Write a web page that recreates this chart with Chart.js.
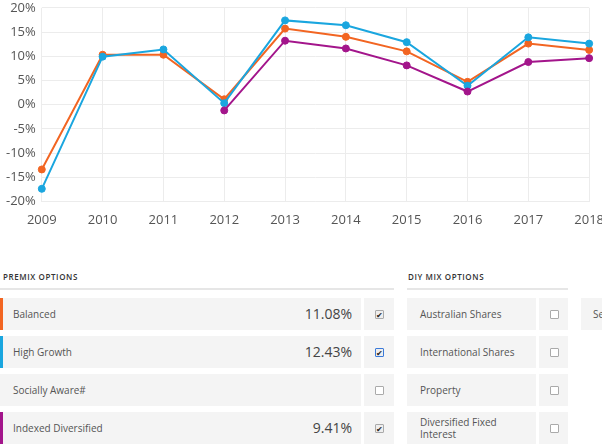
<!DOCTYPE html>
<html>
<head>
<meta charset="utf-8">
<script src="https://cdn.jsdelivr.net/npm/chart.js@4"></script>
<style>
  html, body { margin: 0; padding: 0; background: #fff; overflow: hidden; }
  body { width: 602px; height: 446px; position: relative; font-family: "Open Sans", sans-serif; color: #555; }
  #chartBox { position: absolute; left: 0; top: -6px; width: 615px; height: 245px; }
  .hdr { position: absolute; top: 271px; font-size: 8px; font-weight: 600; letter-spacing: 0.6px; color: #333; }
  .rule { position: absolute; top: 288px; height: 2px; background: #e6e6e6; }
  .cell { position: absolute; height: 32px; background: #f4f4f4; font-size: 10px; color: #555; box-sizing: border-box; }
  .name { padding-left: 13px; line-height: 32px; }
  .val { position: absolute; right: 9px; top: 0; font-size: 14px; color: #444; line-height: 32px; }
  .bar { position: absolute; left: 0; top: 0; width: 3px; height: 32px; }
  .box { position: absolute; left: 50%; top: 50%; width: 7px; height: 7px; margin: -4px 0 0 -4px; border: 1px solid #aaa; background: #fff; border-radius: 1px; font-size: 8px; line-height: 7px; text-align: center; color: #222; }
  .box.on { background: #eee; }
  .box.blue { border-color: #3b7ad9; }
</style>
</head>
<body>
<div id="chartBox"><canvas id="grafica"></canvas></div>

<div class="hdr" style="left:3px">PREMIX OPTIONS</div>
<div class="rule" style="left:0;width:394px"></div>
<div class="hdr" style="left:408px">DIY MIX OPTIONS</div>
<div class="rule" style="left:407px;width:161px"></div>

<div id="premix"></div>
<div id="diy"></div>

<script>
const years = ['2009', '2010', '2011', '2012', '2013', '2014', '2015', '2016', '2017', '2018'];
const balanced = [-13.4, 10.3, 10.3, 1.1, 15.7, 14.0, 11.0, 4.7, 12.6, 11.3];
const highGrowth = [-17.4, 9.9, 11.4, 0.3, 17.4, 16.4, 12.9, 3.9, 13.9, 12.6];
const indexedDiversified = [null, null, null, -1.2, 13.2, 11.6, 8.1, 2.7, 8.8, 9.6];

const premixNames = ['Balanced', 'High Growth', 'Socially Aware#', 'Indexed Diversified'];
const premixValues = ['11.08%', '12.43%', '', '9.41%'];
const premixColors = ['#f26522', '#1aa6df', '', '#a3158b'];
const premixChecked = [true, true, false, true];
const diyNames = ['Australian Shares', 'International Shares', 'Property', 'Diversified Fixed<br>Interest'];

// rows under the chart
const rowTops = [298, 336, 374, 412];
let html = '';
premixNames.forEach(function(name, i) {
    html += '<div class="cell name" style="left:0;width:361px;top:' + rowTops[i] + 'px">' + name;
    if (premixColors[i]) html += '<div class="bar" style="background:' + premixColors[i] + '"></div>';
    if (premixValues[i]) html += '<div class="val">' + premixValues[i] + '</div>';
    html += '</div>';
    let cls = 'box' + (premixChecked[i] ? ' on' : '') + (i == 1 ? ' blue' : '');
    html += '<div class="cell" style="left:364px;width:30px;top:' + rowTops[i] + 'px"><div class="' + cls + '">' + (premixChecked[i] ? '&#10004;' : '') + '</div></div>';
});
document.getElementById('premix').innerHTML = html;

html = '';
diyNames.forEach(function(name, i) {
    let two = name.indexOf('<br>') > -1;
    html += '<div class="cell name" style="left:407px;width:129px;top:' + rowTops[i] + 'px;' + (two ? 'line-height:12px;padding-top:4px' : '') + '">' + name + '</div>';
    html += '<div class="cell" style="left:539px;width:29px;top:' + rowTops[i] + 'px"><div class="box"></div></div>';
});
html += '<div class="cell name" style="left:581px;width:40px;top:298px;padding-left:12px">Se</div>';
document.getElementById('diy').innerHTML = html;

const ctx = document.getElementById('grafica').getContext('2d');
const myChart = new Chart(ctx, {
    type: 'line',
    data: {
        labels: years,
        datasets: [{
                label: 'Balanced',
                data: balanced,
                borderColor: '#f26522',
                backgroundColor: '#f26522',
                order: 2
            },
            {
                label: 'High Growth',
                data: highGrowth,
                borderColor: '#1aa6df',
                backgroundColor: '#1aa6df',
                order: 1
            },
            {
                label: 'Indexed Diversified',
                data: indexedDiversified,
                borderColor: '#a3158b',
                backgroundColor: '#a3158b',
                order: 0
            }
        ]
    },
    options: {
        responsive: true,
        maintainAspectRatio: false,
        animation: false,
        layout: { padding: { top: 2 } },
        elements: {
            line: { borderWidth: 2, tension: 0 },
            point: { radius: 3.5, borderWidth: 1, borderColor: '#fff' }
        },
        plugins: { legend: { display: false }, tooltip: { enabled: false } },
        scales: {
            x: {
                grid: { color: '#ececec', drawTicks: false },
                border: { color: '#ececec' },
                ticks: { color: '#555', padding: 11, font: { family: 'Open Sans', size: 13 } }
            },
            y: {
                min: -20,
                max: 20,
                grid: { color: '#ececec', drawTicks: false },
                border: { display: false },
                ticks: {
                    stepSize: 5,
                    color: '#555',
                    padding: 6,
                    font: { family: 'Open Sans', size: 13 },
                    callback: function(v) { return v + '%'; }
                }
            }
        }
    }
});
</script>
</body>
</html>
